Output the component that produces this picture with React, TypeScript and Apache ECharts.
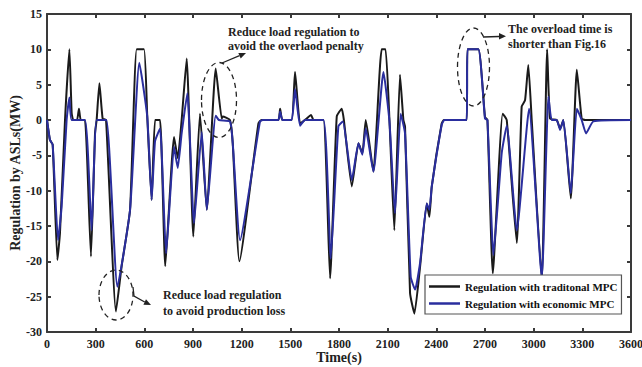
import React, { useEffect, useRef } from "react";
import * as echarts from "echarts";

const FONT = '"Liberation Serif", "Times New Roman", serif';

const xTicks = { min: 0, max: 3600, interval: 300 };
const yTicks = { min: -30, max: 15, interval: 5 };

const seriesNames = ["Regulation with traditonal MPC", "Regulation with economic MPC"];

const traditionalMPC: [number, number][] = [
  [0, 0], [18, -2.8], [35, -3.5], [64, -19.8], [80, -16], [111, 0], [138, 10], [152, 1], [162, 0], [185, 0],
  [197, 1.6], [208, 0], [234, 0], [271, -19.3], [296, -1.9], [306, 0], [323, 5.2], [343, 0.2], [364, 0],
  [425, -27.1], [460, -20.7], [512, -12.7], [553, 10], [598, 10], [618, 0.5], [645, -11.3], [666, 0], [697, 0],
  [729, -20.7], [783, -2.4], [806, -5.4], [830, 0], [861, 8.7], [902, -16.5], [943, 0.9], [985, -12.7],
  [1040, 7.3], [1077, 0.2], [1083, 0.5], [1128, 0], [1145, -3.3], [1186, -20], [1303, -0.5], [1322, 0],
  [1426, 0], [1437, 1.6], [1451, 0], [1508, 0], [1529, 6.8], [1560, -0.5], [1590, 0], [1628, 0.7], [1643, 0],
  [1704, 0], [1745, -22.4], [1786, 0.5], [1817, 1.6], [1830, 0], [1879, -9.4], [1920, -3.3], [1944, -4.7],
  [1965, 0], [2012, -7.3], [2063, 10], [2087, 10], [2111, 0], [2141, -15.6], [2176, 6.4], [2197, 0],
  [2207, -0.9], [2238, -24.5], [2265, -27.4], [2300, -20.7], [2341, -11.8], [2357, -13.7], [2372, -9.4],
  [2433, -0.5], [2447, 0], [2587, 0], [2592, 10], [2659, 10], [2700, 0.4], [2715, 0], [2748, -21.7],
  [2809, 0.9], [2834, 0], [2896, -17.4], [2926, 1.9], [2947, 2.8], [2967, 7.8], [2988, 0], [3050, -22.6],
  [3083, 10], [3101, 0.2], [3142, 0], [3163, -1.2], [3183, 0], [3229, -11.1], [3266, 7.1], [3296, 0.2],
  [3317, 0], [3600, 0],
];

const economicMPC: [number, number][] = [
  [0, 0], [18, -2.8], [35, -3.5], [68, -17], [90, -12.3], [121, 0], [138, 3.2], [152, 0], [234, 0],
  [275, -15.6], [306, 0], [366, 0], [434, -23.6], [512, -12.7], [569, 8.1], [618, 0.5], [645, -11.3],
  [666, -3], [697, -1.2], [734, -18.9], [783, -3.8], [806, -6.8], [830, -1.9], [865, 3.8], [906, -14.6],
  [954, -1.7], [985, -12.7], [1040, 0.6], [1060, 0], [1128, -0.2], [1145, -3.3], [1190, -17], [1313, -0.2],
  [1330, 0], [1426, 0], [1437, 1.2], [1451, 0], [1508, 0], [1529, 4.4], [1560, -0.8], [1590, 0], [1704, 0],
  [1749, -19.6], [1796, -0.9], [1824, -0.2], [1879, -8.5], [1920, -3.3], [1944, -4.9], [1965, -1.2],
  [2012, -7.3], [2074, 6.8], [2111, -0.2], [2145, -13.2], [2180, 0.9], [2207, -1.9], [2242, -22.2],
  [2269, -24], [2300, -20.2], [2341, -11.8], [2357, -12.7], [2372, -9.4], [2433, -0.7], [2450, 0], [2587, 0],
  [2592, 10], [2659, 10], [2700, 0.2], [2715, 0], [2752, -19.1], [2803, -4.7], [2834, -0.8], [2896, -15.6],
  [2972, 1.6], [3050, -22.3], [3091, 3.3], [3111, 0], [3142, 0], [3163, -1.4], [3183, 0], [3229, -10.4],
  [3266, 1.6], [3296, 0], [3323, -1.9], [3368, -0.2], [3600, 0],
];

const annotations = [
  "Reduce load regulation to",
  "avoid the overlaod penalty",
  "Reduce load regulation",
  "to avoid production loss",
  "The overload time is",
  "shorter than Fig.16",
];

export default function App() {
  const ref = useRef<HTMLDivElement>(null);
  useEffect(() => {
    document.body.style.margin = "0";
    const chart = echarts.init(ref.current!, null, { renderer: "svg" });
    const axisColor = "#3a3a3a";
    const labelStyle = {
      fontFamily: FONT, fontWeight: "bold" as const, fontSize: 12, color: "#222",
      formatter: (v: number) => String(v),
    };
    const txt = (s: string, x: number, y: number) => ({
      type: "text",
      x,
      y,
      z: 100,
      style: { text: s, font: `bold 12px ${FONT}`, fill: "#222", align: "left", verticalAlign: "middle" },
    });
    const dashed = { stroke: "#222", lineWidth: 1.3, lineDash: [5, 4], fill: "none" };
    const solid = { stroke: "#222", lineWidth: 1.3, fill: "none" };
    const boxLine = { show: true, onZero: false, lineStyle: { color: axisColor, width: 2 } };
    const tick = { show: true, inside: true, length: 4, lineStyle: { color: axisColor, width: 2 } };
    chart.setOption({
      animation: false,
      backgroundColor: "#fff",
      grid: { left: 47, right: 11, top: 14, bottom: 35, containLabel: false, outerBoundsMode: "none" },
      xAxis: [
        {
          type: "value", ...xTicks, name: "Time(s)", nameLocation: "middle", nameGap: 18,
          nameMoveOverlap: false,
          nameTextStyle: { fontFamily: FONT, fontWeight: "bold", fontSize: 14, color: "#222", lineHeight: 14 },
          axisLine: boxLine, axisTick: tick,
          axisLabel: { ...labelStyle, margin: 6 },
          splitLine: { show: false },
        },
        {
          type: "value", position: "top", ...xTicks,
          axisLine: boxLine, axisTick: tick,
          axisLabel: { show: false }, splitLine: { show: false },
        },
      ],
      yAxis: [
        {
          type: "value", ...yTicks, name: "Regulation by ASLs(MW)", nameLocation: "middle", nameGap: 25,
          nameMoveOverlap: false,
          nameTextStyle: { fontFamily: FONT, fontWeight: "bold", fontSize: 14, color: "#222", lineHeight: 14 },
          axisLine: boxLine, axisTick: tick,
          axisLabel: { ...labelStyle, margin: 5 },
          splitLine: { show: false },
        },
        {
          type: "value", position: "right", ...yTicks,
          axisLine: boxLine, axisTick: tick,
          axisLabel: { show: false }, splitLine: { show: false },
        },
      ],
      legend: {
        orient: "vertical", left: 425, top: 275, padding: [6, 4, 5, 4], itemGap: 6,
        itemWidth: 31, itemHeight: 2.5, icon: "rect",
        borderColor: "#555", borderWidth: 1.2, backgroundColor: "#fff",
        textStyle: { fontFamily: FONT, fontWeight: "bold", fontSize: 11, color: "#111" },
        data: seriesNames,
      },
      series: [
        {
          name: seriesNames[0], type: "line", data: traditionalMPC, showSymbol: false, smooth: 0.15,
          lineStyle: { color: "#1a1a1a", width: 2 }, itemStyle: { color: "#1a1a1a" },
        },
        {
          name: seriesNames[1], type: "line", data: economicMPC, showSymbol: false, smooth: 0.15,
          lineStyle: { color: "#2a2e9e", width: 2 }, itemStyle: { color: "#2a2e9e" },
        },
      ],
      graphic: [
        { type: "ellipse", shape: { cx: 219, cy: 100, rx: 17.5, ry: 37.5 }, style: dashed, z: 100 },
        { type: "ellipse", shape: { cx: 116, cy: 295, rx: 17, ry: 25 }, style: dashed, z: 100 },
        { type: "ellipse", shape: { cx: 473.5, cy: 67, rx: 16, ry: 39 }, style: dashed, z: 100 },
        { type: "line", shape: { x1: 222, y1: 63, x2: 239.5, y2: 55.7 }, style: solid, z: 100 },
        { type: "polygon", shape: { points: [[246, 53], [240.7, 58.5], [238.3, 52.9]] }, style: { fill: "#222" }, z: 100 },
        { type: "polyline", shape: { points: [[133, 287], [134, 296], [144.7, 302]] }, style: solid, z: 100 },
        { type: "polygon", shape: { points: [[151, 305], [143.4, 304.7], [146, 299.3]] }, style: { fill: "#222" }, z: 100 },
        { type: "line", shape: { x1: 483, y1: 37, x2: 499, y2: 36.5 }, style: solid, z: 100 },
        { type: "polygon", shape: { points: [[506, 36.3], [499, 33], [499, 39.5]] }, style: { fill: "#222" }, z: 100 },
        txt(annotations[0], 228, 32),
        txt(annotations[1], 228, 46),
        txt(annotations[2], 163, 295),
        txt(annotations[3], 163, 311),
        txt(annotations[4], 508, 29),
        txt(annotations[5], 508, 44),
      ],
    });
    return () => chart.dispose();
  }, []);
  return <div ref={ref} style={{ width: 642, height: 367 }} />;
}
